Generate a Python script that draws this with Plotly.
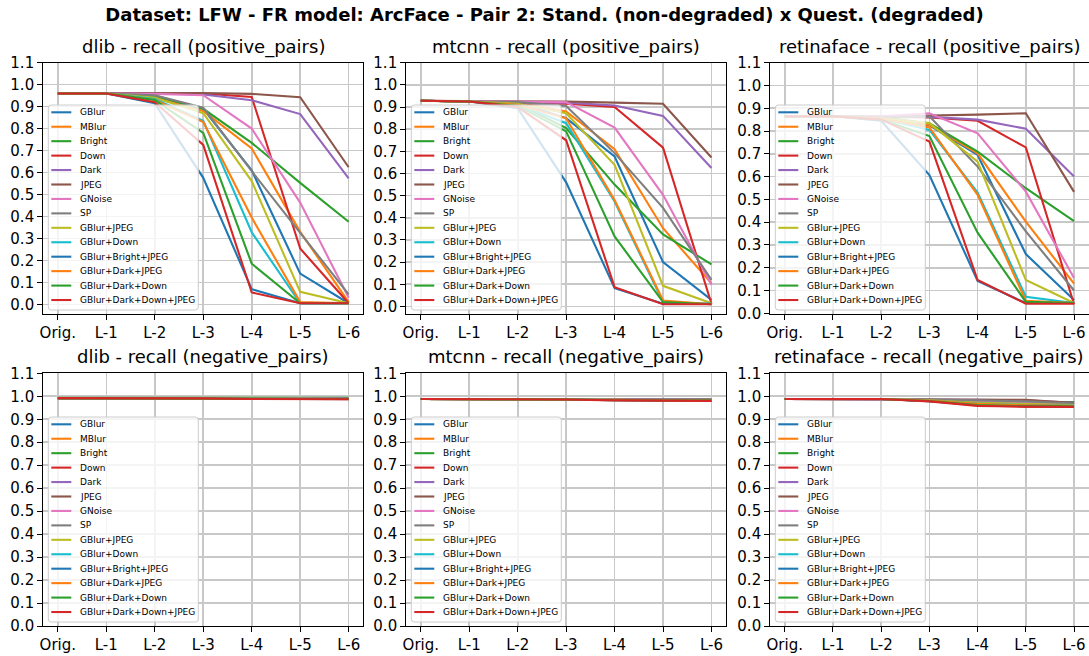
import plotly.graph_objects as go

W, H = 1089, 656

LEVELS = ["Orig.", "L-1", "L-2", "L-3", "L-4", "L-5", "L-6"]
SERIES = ["GBlur", "MBlur", "Bright", "Down", "Dark", "JPEG", "GNoise", "SP",
          "GBlur+JPEG", "GBlur+Down", "GBlur+Bright+JPEG", "GBlur+Dark+JPEG",
          "GBlur+Dark+Down", "GBlur+Dark+Down+JPEG"]
COLORS = ["#1f77b4", "#ff7f0e", "#2ca02c", "#d62728", "#9467bd", "#8c564b",
          "#e377c2", "#7f7f7f", "#bcbd22", "#17becf", "#1f77b4", "#ff7f0e",
          "#2ca02c", "#d62728"]
YTICKS = [0.0, 0.1, 0.2, 0.3, 0.4, 0.5, 0.6, 0.7, 0.8, 0.9, 1.0, 1.1]

# rows follow SERIES order; columns follow LEVELS
dlib_pos = [
    [0.96, 0.96, 0.94, 0.89, 0.61, 0.14, 0.005],
    [0.96, 0.96, 0.94, 0.88, 0.71, 0.33, 0.01],
    [0.96, 0.96, 0.95, 0.89, 0.735, 0.553, 0.376],
    [0.96, 0.96, 0.96, 0.96, 0.944, 0.254, 0.005],
    [0.96, 0.96, 0.96, 0.955, 0.929, 0.866, 0.573],
    [0.96, 0.96, 0.962, 0.962, 0.958, 0.943, 0.624],
    [0.96, 0.96, 0.958, 0.952, 0.80, 0.463, 0.03],
    [0.96, 0.96, 0.952, 0.895, 0.606, 0.328, 0.045],
    [0.96, 0.96, 0.94, 0.87, 0.561, 0.057, 0.005],
    [0.96, 0.96, 0.935, 0.835, 0.328, 0.005, 0.005],
    [0.96, 0.96, 0.915, 0.576, 0.069, 0.005, 0.005],
    [0.96, 0.96, 0.93, 0.83, 0.395, 0.01, 0.005],
    [0.96, 0.96, 0.93, 0.78, 0.185, 0.005, 0.005],
    [0.96, 0.96, 0.92, 0.726, 0.054, 0.005, 0.005],
]
mtcnn_pos = [
    [0.928, 0.925, 0.92, 0.85, 0.677, 0.20, 0.03],
    [0.928, 0.925, 0.92, 0.88, 0.71, 0.353, 0.105],
    [0.928, 0.925, 0.915, 0.805, 0.55, 0.325, 0.19],
    [0.928, 0.925, 0.915, 0.915, 0.90, 0.717, 0.012],
    [0.928, 0.925, 0.922, 0.92, 0.907, 0.86, 0.625],
    [0.928, 0.928, 0.928, 0.925, 0.92, 0.915, 0.672],
    [0.928, 0.925, 0.925, 0.922, 0.807, 0.504, 0.098],
    [0.928, 0.925, 0.922, 0.905, 0.692, 0.445, 0.12],
    [0.928, 0.925, 0.915, 0.872, 0.639, 0.093, 0.015],
    [0.928, 0.925, 0.91, 0.827, 0.474, 0.02, 0.012],
    [0.928, 0.925, 0.895, 0.56, 0.083, 0.012, 0.012],
    [0.928, 0.925, 0.91, 0.849, 0.48, 0.027, 0.01],
    [0.928, 0.925, 0.905, 0.79, 0.316, 0.02, 0.01],
    [0.928, 0.925, 0.90, 0.75, 0.087, 0.01, 0.01],
]
retina_pos = [
    [0.865, 0.865, 0.86, 0.825, 0.695, 0.26, 0.058],
    [0.865, 0.865, 0.86, 0.827, 0.702, 0.402, 0.13],
    [0.865, 0.865, 0.86, 0.834, 0.71, 0.549, 0.405],
    [0.865, 0.865, 0.862, 0.86, 0.845, 0.728, 0.04],
    [0.865, 0.865, 0.863, 0.862, 0.85, 0.81, 0.60],
    [0.865, 0.865, 0.86, 0.868, 0.872, 0.878, 0.533],
    [0.865, 0.865, 0.865, 0.878, 0.79, 0.534, 0.155],
    [0.865, 0.865, 0.86, 0.865, 0.644, 0.36, 0.10],
    [0.865, 0.865, 0.855, 0.835, 0.666, 0.146, 0.045],
    [0.865, 0.865, 0.855, 0.805, 0.53, 0.073, 0.045],
    [0.865, 0.865, 0.845, 0.607, 0.142, 0.045, 0.045],
    [0.865, 0.865, 0.855, 0.816, 0.52, 0.055, 0.045],
    [0.865, 0.865, 0.85, 0.778, 0.354, 0.05, 0.045],
    [0.865, 0.865, 0.85, 0.754, 0.146, 0.042, 0.042],
]
dlib_neg = [
    [0.992, 0.992, 0.992, 0.992, 0.990, 0.989, 0.988],
    [0.992, 0.992, 0.992, 0.992, 0.990, 0.989, 0.988],
    [0.993, 0.993, 0.993, 0.993, 0.993, 0.993, 0.993],
    [0.992, 0.992, 0.992, 0.992, 0.989, 0.988, 0.988],
    [0.992, 0.992, 0.992, 0.992, 0.992, 0.991, 0.990],
    [0.992, 0.992, 0.992, 0.992, 0.990, 0.988, 0.987],
    [0.992, 0.992, 0.992, 0.992, 0.991, 0.990, 0.989],
    [0.992, 0.992, 0.992, 0.992, 0.991, 0.990, 0.989],
    [0.992, 0.992, 0.992, 0.992, 0.990, 0.989, 0.988],
    [0.992, 0.992, 0.992, 0.992, 0.989, 0.988, 0.988],
    [0.992, 0.992, 0.992, 0.991, 0.989, 0.988, 0.988],
    [0.992, 0.992, 0.992, 0.991, 0.989, 0.988, 0.988],
    [0.992, 0.992, 0.992, 0.991, 0.989, 0.988, 0.988],
    [0.992, 0.992, 0.992, 0.991, 0.988, 0.987, 0.987],
]
mtcnn_neg = [
    [0.988, 0.988, 0.988, 0.987, 0.985, 0.983, 0.982],
    [0.988, 0.988, 0.988, 0.987, 0.985, 0.984, 0.983],
    [0.988, 0.988, 0.988, 0.988, 0.988, 0.988, 0.988],
    [0.988, 0.988, 0.988, 0.987, 0.984, 0.982, 0.981],
    [0.988, 0.988, 0.988, 0.988, 0.988, 0.987, 0.986],
    [0.988, 0.988, 0.988, 0.988, 0.986, 0.984, 0.982],
    [0.988, 0.988, 0.988, 0.988, 0.987, 0.986, 0.985],
    [0.988, 0.988, 0.988, 0.988, 0.987, 0.986, 0.985],
    [0.988, 0.988, 0.988, 0.987, 0.985, 0.983, 0.982],
    [0.988, 0.988, 0.988, 0.987, 0.984, 0.982, 0.981],
    [0.988, 0.988, 0.988, 0.986, 0.983, 0.982, 0.981],
    [0.988, 0.988, 0.988, 0.986, 0.984, 0.982, 0.981],
    [0.988, 0.988, 0.988, 0.986, 0.983, 0.982, 0.981],
    [0.988, 0.988, 0.988, 0.986, 0.982, 0.980, 0.980],
]
retina_neg = [
    [0.988, 0.988, 0.988, 0.980, 0.970, 0.965, 0.960],
    [0.988, 0.988, 0.988, 0.985, 0.975, 0.965, 0.962],
    [0.988, 0.988, 0.988, 0.986, 0.976, 0.975, 0.975],
    [0.988, 0.988, 0.988, 0.980, 0.960, 0.955, 0.955],
    [0.988, 0.988, 0.988, 0.988, 0.985, 0.982, 0.972],
    [0.988, 0.988, 0.988, 0.988, 0.985, 0.985, 0.970],
    [0.988, 0.988, 0.988, 0.985, 0.980, 0.975, 0.965],
    [0.988, 0.988, 0.988, 0.986, 0.982, 0.978, 0.968],
    [0.988, 0.988, 0.988, 0.982, 0.972, 0.966, 0.962],
    [0.988, 0.988, 0.988, 0.981, 0.968, 0.962, 0.960],
    [0.988, 0.988, 0.988, 0.979, 0.963, 0.958, 0.957],
    [0.988, 0.988, 0.988, 0.981, 0.967, 0.961, 0.959],
    [0.988, 0.988, 0.988, 0.979, 0.962, 0.957, 0.956],
    [0.988, 0.988, 0.988, 0.978, 0.958, 0.955, 0.954],
]

TITLE = "Dataset: LFW - FR model: ArcFace - Pair 2: Stand. (non-degraded) x Quest. (degraded)"
PANELS = [
    (dlib_pos, "dlib - recall (positive_pairs)", [-0.044, 1.1]),
    (mtcnn_pos, "mtcnn - recall (positive_pairs)", [-0.034, 1.1]),
    (retina_pos, "retinaface - recall (positive_pairs)", [-0.003, 1.1]),
    (dlib_neg, "dlib - recall (negative_pairs)", [0.0, 1.1]),
    (mtcnn_neg, "mtcnn - recall (negative_pairs)", [0.0, 1.1]),
    (retina_neg, "retinaface - recall (negative_pairs)", [0.0, 1.1]),
]

# layout geometry in pixels
AX_X = [(43.3, 363.2), (406.3, 726.0), (770.3, 1088.5)]
AX_Y = [(62.7, 314.0), (373.3, 626.0)]
FONT = "DejaVu Sans"


def px(x):
    return x / W


def py(y):
    return 1 - y / H


fig = go.Figure()
shapes = []
annotations = []
layout_axes = {}

for i, (data, title, yr) in enumerate(PANELS):
    r, c = divmod(i, 3)
    sfx = "" if i == 0 else str(i + 1)
    xl, xr = AX_X[c]
    yt, yb = AX_Y[r]
    for k, name in enumerate(SERIES):
        fig.add_trace(go.Scatter(
            x=list(range(len(LEVELS))), y=data[k], mode="lines", name=name,
            line=dict(color=COLORS[k], width=2.1), showlegend=False,
            hoverinfo="skip", xaxis="x" + sfx, yaxis="y" + sfx))
    axcommon = dict(showline=True, mirror=True, linecolor="black", linewidth=1.1,
                    ticks="outside", ticklen=5, tickwidth=1, tickcolor="black",
                    showgrid=True, gridcolor="#c8c8c8", gridwidth=1.6,
                    zeroline=False, automargin=False,
                    tickfont=dict(family=FONT, size=15, color="black"))
    layout_axes["xaxis" + sfx] = dict(
        domain=[px(xl), px(xr)], anchor="y" + sfx, range=[-0.3, 6.3],
        tickmode="array", tickvals=list(range(len(LEVELS))), ticktext=LEVELS,
        **axcommon)
    layout_axes["yaxis" + sfx] = dict(
        domain=[py(yb), py(yt)], anchor="x" + sfx, range=yr,
        tickmode="array", tickvals=YTICKS, ticktext=[f"{v:.1f}" for v in YTICKS],
        **axcommon)
    # subplot title
    annotations.append(dict(text=title, x=px((xl + xr) / 2), y=py(yt - 16),
                            xref="paper", yref="paper", showarrow=False,
                            xanchor="center", yanchor="middle",
                            font=dict(family=FONT, size=18, color="black")))
    # legend box (semi-transparent, over lines)
    bx0, bx1 = xl + 5, xl + 155
    by1 = yb - 4
    by0 = by1 - 205
    rad = 3
    path = (f"M {px(bx0 + rad)},{py(by0)} L {px(bx1 - rad)},{py(by0)} "
            f"Q {px(bx1)},{py(by0)} {px(bx1)},{py(by0 + rad)} "
            f"L {px(bx1)},{py(by1 - rad)} Q {px(bx1)},{py(by1)} {px(bx1 - rad)},{py(by1)} "
            f"L {px(bx0 + rad)},{py(by1)} Q {px(bx0)},{py(by1)} {px(bx0)},{py(by1 - rad)} "
            f"L {px(bx0)},{py(by0 + rad)} Q {px(bx0)},{py(by0)} {px(bx0 + rad)},{py(by0)} Z")
    shapes.append(dict(type="path", path=path, xref="paper", yref="paper",
                       fillcolor="rgba(255,255,255,0.8)",
                       line=dict(color="#cccccc", width=1), layer="above"))
    for k, name in enumerate(SERIES):
        yy = by0 + 7.3 + k * 14.44
        shapes.append(dict(type="line", xref="paper", yref="paper",
                           x0=px(bx0 + 3), x1=px(bx0 + 23), y0=py(yy), y1=py(yy),
                           line=dict(color=COLORS[k], width=2.1), layer="above"))
        annotations.append(dict(text=name, x=px(bx0 + 30), y=py(yy),
                                xref="paper", yref="paper", showarrow=False,
                                xanchor="left", yanchor="middle",
                                font=dict(family=FONT, size=9, color="black")))

fig.update_layout(
    template="none",
    width=W, height=H, margin=dict(l=0, r=0, t=0, b=0, autoexpand=False),
    paper_bgcolor="white", plot_bgcolor="white",
    font=dict(family=FONT, color="black"),
    title=dict(text="<b>" + TITLE + "</b>", x=0.5, xanchor="center",
               y=py(15), yanchor="middle", yref="paper", automargin=False,
               font=dict(family=FONT, size=18, color="black")),
    shapes=shapes, annotations=annotations, showlegend=False,
    **layout_axes)

fig.write_html(
    "out.html",
    config={"displayModeBar": False, "staticPlot": True},
    post_script=("document.body.style.margin='0';document.body.style.padding='0';"
                 "document.body.style.overflow='hidden';"),
)
